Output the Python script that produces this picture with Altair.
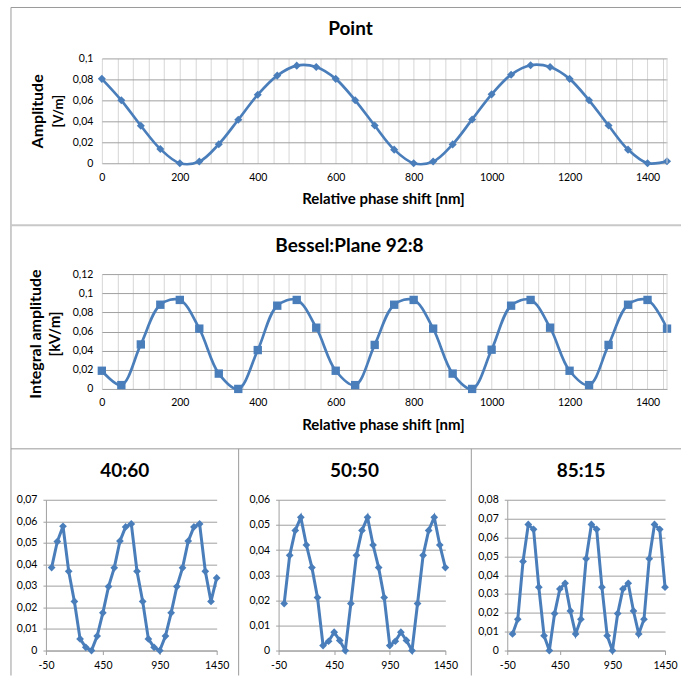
import altair as alt
import pandas as pd

# ---------------- data ----------------
x_nm = [0, 50, 100, 150, 200, 250, 300, 350, 400, 450, 500, 550, 600, 650, 700,
        750, 800, 850, 900, 950, 1000, 1050, 1100, 1150, 1200, 1250, 1300, 1350, 1400, 1450]

point_amp = [0.0805, 0.060, 0.0358, 0.0136, 0.0, 0.0016, 0.0182, 0.0415, 0.0654, 0.0836,
             0.0931, 0.0918, 0.0805, 0.060, 0.036, 0.013, 0.0, 0.0016, 0.018, 0.0418,
             0.0657, 0.0845, 0.0935, 0.0918, 0.0805, 0.060, 0.036, 0.013, 0.0, 0.0019]

bessel_amp = [0.019, 0.004, 0.0465, 0.088, 0.093, 0.063, 0.016, 0.0, 0.0406, 0.087,
              0.093, 0.064, 0.019, 0.004, 0.046, 0.088, 0.093, 0.063, 0.016, 0.0,
              0.041, 0.087, 0.093, 0.064, 0.019, 0.004, 0.046, 0.088, 0.093, 0.063]

amp_40_60 = [0.0385, 0.0506, 0.0577, 0.0368, 0.0228, 0.0054, 0.0015, 0.0, 0.0067, 0.0175,
             0.0297, 0.0384, 0.0508, 0.0574, 0.0588, 0.0368, 0.0228, 0.0054, 0.0015, 0.0,
             0.0067, 0.0175, 0.0297, 0.0384, 0.0508, 0.0574, 0.0588, 0.0368, 0.0228, 0.0337]

amp_50_50 = [0.0187, 0.0379, 0.0478, 0.053, 0.042, 0.033, 0.0211, 0.002, 0.0037, 0.0073,
             0.004, 0.0, 0.0187, 0.0379, 0.0478, 0.053, 0.042, 0.033, 0.0211, 0.002,
             0.0037, 0.0073, 0.004, 0.0, 0.0187, 0.0379, 0.0478, 0.053, 0.042, 0.033]

amp_85_15 = [0.0088, 0.0166, 0.0473, 0.0669, 0.0643, 0.0336, 0.0079, 0.0, 0.0196, 0.0327,
             0.0357, 0.021, 0.0088, 0.0166, 0.0487, 0.0669, 0.0643, 0.0336, 0.0079, 0.0,
             0.0196, 0.0327, 0.0357, 0.021, 0.0088, 0.0166, 0.0487, 0.0669, 0.0643, 0.0336]

x_labels_big = [0, 200, 400, 600, 800, 1000, 1200, 1400]
x_labels_small = [-50, 450, 950, 1450]
y_ticks_point = [0, 0.02, 0.04, 0.06, 0.08, 0.1]
y_ticks_bessel = [0, 0.02, 0.04, 0.06, 0.08, 0.1, 0.12]
y_ticks_4060 = [0, 0.01, 0.02, 0.03, 0.04, 0.05, 0.06, 0.07]
y_ticks_5050 = [0, 0.01, 0.02, 0.03, 0.04, 0.05, 0.06]
y_ticks_8515 = [0, 0.01, 0.02, 0.03, 0.04, 0.05, 0.06, 0.07, 0.08]

# ---------------- style ----------------
FONT = "Lato"
BLUE = "#4a7ebb"
GRID = "#a0a0a0"
MINOR = "#d6d6d6"
TXT = "#000000"
BORDER = "#9a9a9a"
LBL = 10.5
Y_LABEL = "replace(format(datum.value, '.2~f'), '.', ',')"


def one_row():
    return pd.DataFrame({"k": [0]})


def text_at(text, x, y, size, weight="bold", angle=0):
    return alt.Chart(one_row()).mark_text(
        text=text, font=FONT, fontSize=size, fontWeight=weight, color="#000000",
        align="center", baseline="middle", angle=angle
    ).encode(x=alt.value(x), y=alt.value(y))


def vrule(x, y1, y2, color=BORDER, width=1):
    return alt.Chart(one_row()).mark_rule(color=color, strokeWidth=width).encode(
        x=alt.value(x), y=alt.value(y1), y2=alt.value(y2))


def hrule(y, x1, x2, color=BORDER, width=1):
    return alt.Chart(one_row()).mark_rule(color=color, strokeWidth=width).encode(
        y=alt.value(y), x=alt.value(x1), x2=alt.value(x2))


def big_panel(values, ymax, yticks, shape, msize, w, h):
    df = pd.DataFrame({"x": x_nm, "y": values})
    label_expr = ("indexof(" + str(x_labels_big) + ", datum.value) >= 0 ? "
                  "toString(datum.value) : ''")
    xenc = alt.X("x:Q", scale=alt.Scale(domain=[0, 1450], nice=False, zero=False),
                 axis=alt.Axis(values=list(range(0, 1450, 40)), labelExpr=label_expr,
                               grid=True, gridColor=MINOR, ticks=False, domain=False,
                               labelFont=FONT, labelFontSize=LBL, labelColor=TXT,
                               labelPadding=9, labelFlush=False, labelOverlap=False,
                               title=None))
    yenc = alt.Y("y:Q", scale=alt.Scale(domain=[0, ymax], nice=False, zero=True),
                 axis=alt.Axis(values=yticks, labelExpr=Y_LABEL, grid=True,
                               gridColor=GRID, ticks=False, domain=False,
                               labelFont=FONT, labelFontSize=LBL, labelColor=TXT,
                               labelPadding=9, labelFlush=False, labelOverlap=False,
                               title=None))
    base = alt.Chart(df).encode(x=xenc, y=yenc)
    line = base.mark_line(color=BLUE, strokeWidth=2.7, interpolate="catmull-rom")
    pts = base.mark_point(shape=shape, filled=True, size=msize, color=BLUE, opacity=1)
    edge = vrule(w, 0, h, color=MINOR)
    return line, pts, edge


def small_panel(values, ymax, yticks, w, h):
    df = pd.DataFrame({"x": x_nm, "y": values})
    xenc = alt.X("x:Q", scale=alt.Scale(domain=[-50, 1450], nice=False, zero=False),
                 axis=alt.Axis(values=x_labels_small, labelExpr="toString(datum.value)",
                               grid=False, ticks=True, tickSize=4, tickColor=GRID,
                               domain=True, domainColor=GRID,
                               labelFont=FONT, labelFontSize=LBL, labelColor=TXT,
                               labelPadding=6, labelFlush=False, labelOverlap=False,
                               title=None))
    yenc = alt.Y("y:Q", scale=alt.Scale(domain=[0, ymax], nice=False, zero=True),
                 axis=alt.Axis(values=yticks, labelExpr=Y_LABEL, grid=True,
                               gridColor=GRID, ticks=True, tickSize=3, tickColor=GRID,
                               domain=True, domainColor=GRID,
                               labelFont=FONT, labelFontSize=LBL, labelColor=TXT,
                               labelPadding=6, labelFlush=False, labelOverlap=False,
                               title=None))
    base = alt.Chart(df).encode(x=xenc, y=yenc)
    line = base.mark_line(color=BLUE, strokeWidth=3)
    pts = base.mark_point(shape="diamond", filled=True, size=60, color=BLUE, opacity=1)
    return line, pts


# ---------------- top: Point ----------------
TW, TH = 566, 105
l1, p1, e1 = big_panel(point_amp, 0.1, y_ticks_point, "diamond", 65, TW, TH)
top = alt.layer(
    l1, p1, e1,
    text_at("Point", 249, -29, 19),
    text_at("Amplitude", -64, 53, 16, angle=270),
    text_at("[V/m]", -43, 53, 13, angle=270),
    text_at("Relative phase shift [nm]", 282, 141, 15),
    # panel frame lines
    vrule(-91, -51, 618),
    hrule(-51, -91, 580),
    hrule(167, -91, 580, color="#c8c8c8", width=2),
    hrule(391, -91, 580),
    vrule(137, 391, 618),
    vrule(370, 391, 618),
).properties(width=TW, height=TH)

# ---------------- middle: Bessel ----------------
MH = 115
l2, p2, e2 = big_panel(bessel_amp, 0.12, y_ticks_bessel, "square", 70, TW, MH)
middle = alt.layer(
    l2, p2, e2,
    text_at("Bessel:Plane 92:8", 248, -28, 19),
    text_at("Integral  amplitude", -66, 60, 16, angle=270),
    text_at("[kV/m]", -47, 60, 15, angle=270),
    text_at("Relative phase shift [nm]", 282, 151, 15),
).properties(width=TW, height=MH)

# ---------------- bottom row ----------------
BH = 151
a1, b1 = small_panel(amp_40_60, 0.07, y_ticks_4060, 171, BH)
s1 = alt.layer(a1, b1, text_at("40:60", 79, -29, 19)).properties(width=171, height=BH)
a2, b2 = small_panel(amp_50_50, 0.06, y_ticks_5050, 167, BH)
s2 = alt.layer(a2, b2, text_at("50:50", 76, -29, 19)).properties(width=167, height=BH)
a3, b3 = small_panel(amp_85_15, 0.08, y_ticks_8515, 158, BH)
s3 = alt.layer(a3, b3, text_at("85:15", 74, -29, 19)).properties(width=158, height=BH)

spacer = alt.Chart(one_row()).mark_point(opacity=0).encode(
    x=alt.value(0), y=alt.value(0)).properties(width=1, height=1)

upper = alt.vconcat(top, middle, spacing=111, bounds="flush")
upper_row = alt.hconcat(spacer, upper, spacing=55, bounds="flush")
bottom_row = alt.hconcat(s1, s2, s3, spacing=62, bounds="flush")

# nested concat rows count as zero height in flush layout, so the spacing
# spans the full upper block (105 + 111 + 115) plus the gap (111)
chart = alt.vconcat(upper_row, bottom_row, spacing=442, bounds="flush").properties(
    padding={"left": 10, "top": 6, "right": 0, "bottom": 0},
    background="#ffffff",
).configure_view(stroke=None)

chart.save("out.html", embed_options={"renderer": "svg", "actions": False})
